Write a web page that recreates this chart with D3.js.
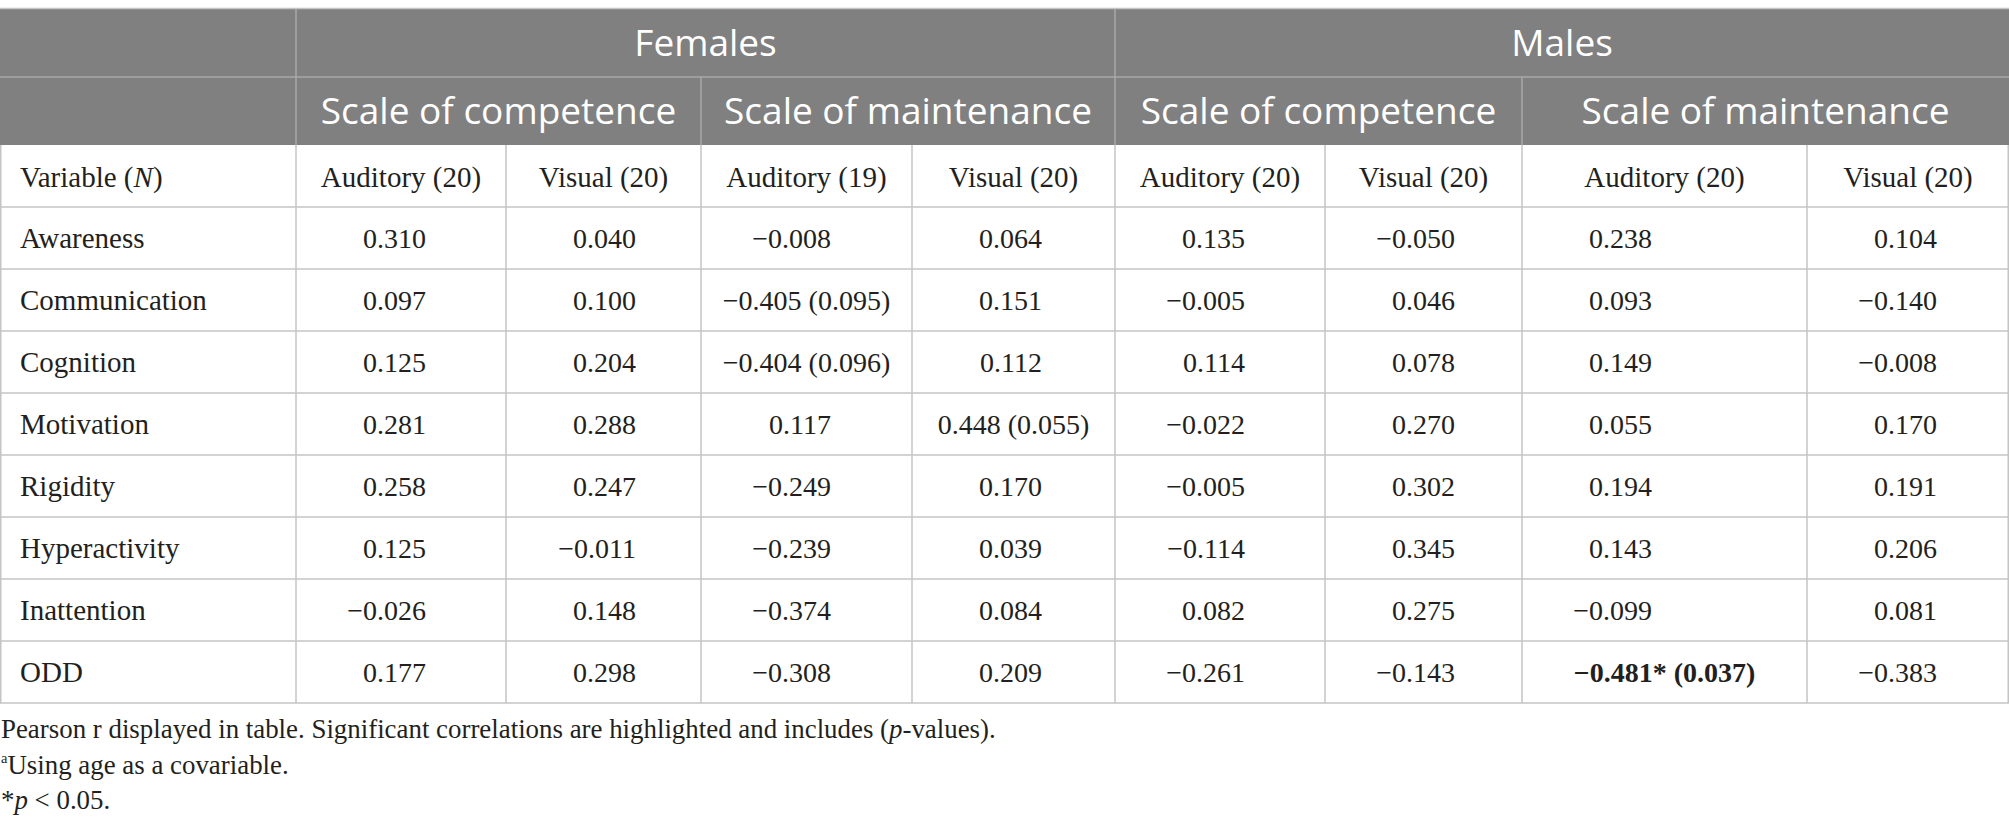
<!DOCTYPE html>
<html>
<head>
<meta charset="utf-8">
<script src="https://cdn.jsdelivr.net/npm/d3@7"></script>
<style>
  html, body { margin: 0; padding: 0; background: #ffffff; }
  svg { display: block; }
</style>
</head>
<body>
<svg id="chart" width="2009" height="837"></svg>
<script>
// ---------------- data ----------------
const groupLabels = ["Females", "Males"];
const scaleLabels = ["Scale of competence", "Scale of maintenance", "Scale of competence", "Scale of maintenance"];
const modalityLabels = ["Auditory (20)", "Visual (20)", "Auditory (19)", "Visual (20)",
                        "Auditory (20)", "Visual (20)", "Auditory (20)", "Visual (20)"];
const variables = ["Awareness", "Communication", "Cognition", "Motivation",
                   "Rigidity", "Hyperactivity", "Inattention", "ODD"];

const femalesCompetenceAuditory  = [0.310, 0.097, 0.125, 0.281, 0.258, 0.125, -0.026, 0.177];
const femalesCompetenceVisual    = [0.040, 0.100, 0.204, 0.288, 0.247, -0.011, 0.148, 0.298];
const femalesMaintenanceAuditory = [-0.008, -0.405, -0.404, 0.117, -0.249, -0.239, -0.374, -0.308];
const femalesMaintenanceVisual   = [0.064, 0.151, 0.112, 0.448, 0.170, 0.039, 0.084, 0.209];
const malesCompetenceAuditory    = [0.135, -0.005, 0.114, -0.022, -0.005, -0.114, 0.082, -0.261];
const malesCompetenceVisual      = [-0.050, 0.046, 0.078, 0.270, 0.302, 0.345, 0.275, -0.143];
const malesMaintenanceAuditory   = [0.238, 0.093, 0.149, 0.055, 0.194, 0.143, -0.099, -0.481];
const malesMaintenanceVisual     = [0.104, -0.140, -0.008, 0.170, 0.191, 0.206, 0.081, -0.383];

// p-values shown in parentheses (null = not shown)
const femalesMaintenanceAuditoryP = [null, 0.095, 0.096, null, null, null, null, null];
const femalesMaintenanceVisualP   = [null, null, null, 0.055, null, null, null, null];
const malesMaintenanceAuditoryP   = [null, null, null, null, null, null, null, 0.037];

const footnotes = [
  "Pearson r displayed in table. Significant correlations are highlighted and includes (",
  "Using age as a covariable.",
  "< 0.05."
];

// ---------------- layout ----------------
const W = 2009, H = 837;
const colWidths = [296, 210, 195, 211, 203, 210, 197, 285, 202];
const colKeys = d3.range(colWidths.length);
const colEdges = [0].concat(Array.from(d3.cumsum(colWidths)));
const colLeft = d3.scaleOrdinal().domain(colKeys).range(colEdges.slice(0, -1));
const colRight = d3.scaleOrdinal().domain(colKeys).range(colEdges.slice(1));
const colMid = k => (colLeft(k) + colRight(k)) / 2;

const tableTop = 9, row1Bottom = 77, row2Bottom = 145, row3Bottom = 207, tableBottom = 703;
const y = d3.scaleBand().domain(variables).range([row3Bottom, tableBottom]).paddingInner(0);

const headerFill = "#808080";
const headerLine = "#a8a8a8";
const gridColor = "#c4c4c4";
const textColor = "#231f20";
const serif = "'Liberation Serif', 'Times New Roman', serif";
const sans = "'Open Sans', 'Noto Sans', sans-serif";
const bodySize = 28;
const labelSize = 29;
const headSize = 37;
const numRightPad = 130;   // simple numbers are right-aligned this far from the column's left edge

const columns = [
  { v: femalesCompetenceAuditory,  p: null },
  { v: femalesCompetenceVisual,    p: null },
  { v: femalesMaintenanceAuditory, p: femalesMaintenanceAuditoryP },
  { v: femalesMaintenanceVisual,   p: femalesMaintenanceVisualP },
  { v: malesCompetenceAuditory,    p: null },
  { v: malesCompetenceVisual,      p: null },
  { v: malesMaintenanceAuditory,   p: malesMaintenanceAuditoryP },
  { v: malesMaintenanceVisual,     p: null }
];

const fmt = d3.format(".3f"); // d3 v7 uses the true minus sign

const svg = d3.select("#chart");

// header band
svg.append("rect").attr("x", 0).attr("y", tableTop).attr("width", W).attr("height", row2Bottom - tableTop)
  .attr("fill", headerFill);
svg.append("line").attr("x1", 0).attr("x2", W).attr("y1", tableTop - 0.5).attr("y2", tableTop - 0.5)
  .attr("stroke", gridColor).attr("stroke-width", 1.5);

// header internal lines
const hl = svg.append("g").attr("stroke", headerLine).attr("stroke-width", 1.5);
hl.append("line").attr("x1", 0).attr("x2", W).attr("y1", row1Bottom).attr("y2", row1Bottom);
[1, 5].forEach(k => hl.append("line").attr("x1", colLeft(k)).attr("x2", colLeft(k))
  .attr("y1", tableTop).attr("y2", row2Bottom));
[3, 7].forEach(k => hl.append("line").attr("x1", colLeft(k)).attr("x2", colLeft(k))
  .attr("y1", row1Bottom).attr("y2", row2Bottom));

// body grid
const grid = svg.append("g").attr("stroke", gridColor).attr("stroke-width", 1.5);
const hLines = [row3Bottom].concat(variables.map(v => y(v) + y.bandwidth()));
grid.selectAll("line.h").data(hLines).join("line").attr("class", "h")
  .attr("x1", 0).attr("x2", W).attr("y1", d => d).attr("y2", d => d);
const vLines = colEdges.map((e, i) => i === 0 ? 0.75 : (i === colEdges.length - 1 ? W - 0.75 : e));
grid.selectAll("line.v").data(vLines).join("line").attr("class", "v")
  .attr("x1", d => d).attr("x2", d => d).attr("y1", row2Bottom).attr("y2", tableBottom);

// header texts
const groupSpans = [[1, 4], [5, 8]];
svg.append("g").selectAll("text").data(groupLabels).join("text")
  .attr("x", (d, i) => (colLeft(groupSpans[i][0]) + colRight(groupSpans[i][1])) / 2)
  .attr("y", (tableTop + row1Bottom) / 2 + 13)
  .attr("text-anchor", "middle").attr("fill", "#ffffff")
  .style("font-family", sans).style("font-size", headSize + "px")
  .text(d => d);

const scaleSpans = [[1, 2], [3, 4], [5, 6], [7, 8]];
svg.append("g").selectAll("text").data(scaleLabels).join("text")
  .attr("x", (d, i) => (colLeft(scaleSpans[i][0]) + colRight(scaleSpans[i][1])) / 2)
  .attr("y", (row1Bottom + row2Bottom) / 2 + 13)
  .attr("text-anchor", "middle").attr("fill", "#ffffff")
  .style("font-family", sans).style("font-size", headSize + "px")
  .text(d => d);

// column header row
const r3y = (row2Bottom + row3Bottom) / 2 + 11;
const varHead = svg.append("text").attr("x", 20).attr("y", r3y).attr("fill", textColor)
  .style("font-family", serif).style("font-size", labelSize + "px");
varHead.append("tspan").text("Variable (");
varHead.append("tspan").style("font-style", "italic").text("N");
varHead.append("tspan").text(")");

svg.append("g").selectAll("text").data(modalityLabels).join("text")
  .attr("x", (d, i) => colMid(i + 1))
  .attr("y", r3y)
  .attr("text-anchor", "middle").attr("fill", textColor)
  .style("font-family", serif).style("font-size", labelSize + "px")
  .text(d => d);

// row labels
svg.append("g").selectAll("text").data(variables).join("text")
  .attr("x", 20)
  .attr("y", d => y(d) + y.bandwidth() / 2 + 10)
  .attr("fill", textColor)
  .style("font-family", serif).style("font-size", labelSize + "px")
  .text(d => d);

// cells
const cells = [];
columns.forEach((col, ci) => {
  col.v.forEach((val, ri) => {
    const p = col.p ? col.p[ri] : null;
    const sig = p !== null && p < 0.05;
    let txt = fmt(val);
    if (sig) txt += "*";
    if (p !== null) txt += " (" + fmt(p) + ")";
    cells.push({ col: ci + 1, row: variables[ri], txt, long: p !== null, bold: sig });
  });
});

svg.append("g").selectAll("text").data(cells).join("text")
  .attr("x", d => d.long ? colMid(d.col) : colLeft(d.col) + numRightPad)
  .attr("y", d => y(d.row) + y.bandwidth() / 2 + 10)
  .attr("text-anchor", d => d.long ? "middle" : "end")
  .attr("fill", textColor)
  .style("font-family", serif).style("font-size", bodySize + "px")
  .style("font-weight", d => d.bold ? "bold" : "normal")
  .text(d => d.txt);

// footnotes
const fnSize = 28;
const fnScaleX = 0.96;
const fnBase = [738, 774, 809];
function footLine(i) {
  return svg.append("text")
    .attr("transform", `translate(1,${fnBase[i]}) scale(${fnScaleX},1)`)
    .attr("fill", textColor)
    .style("font-family", serif).style("font-size", fnSize + "px");
}
const f1 = footLine(0);
f1.append("tspan").text(footnotes[0]);
f1.append("tspan").style("font-style", "italic").text("p");
f1.append("tspan").text("-values).");

const f2 = footLine(1);
f2.append("tspan").style("font-size", "15px").attr("dy", -11).text("a");
f2.append("tspan").attr("dy", 11).text(footnotes[1]);

const f3 = footLine(2);
f3.append("tspan").text("*");
f3.append("tspan").style("font-style", "italic").text("p");
f3.append("tspan").text(" " + footnotes[2]);
</script>
</body>
</html>
